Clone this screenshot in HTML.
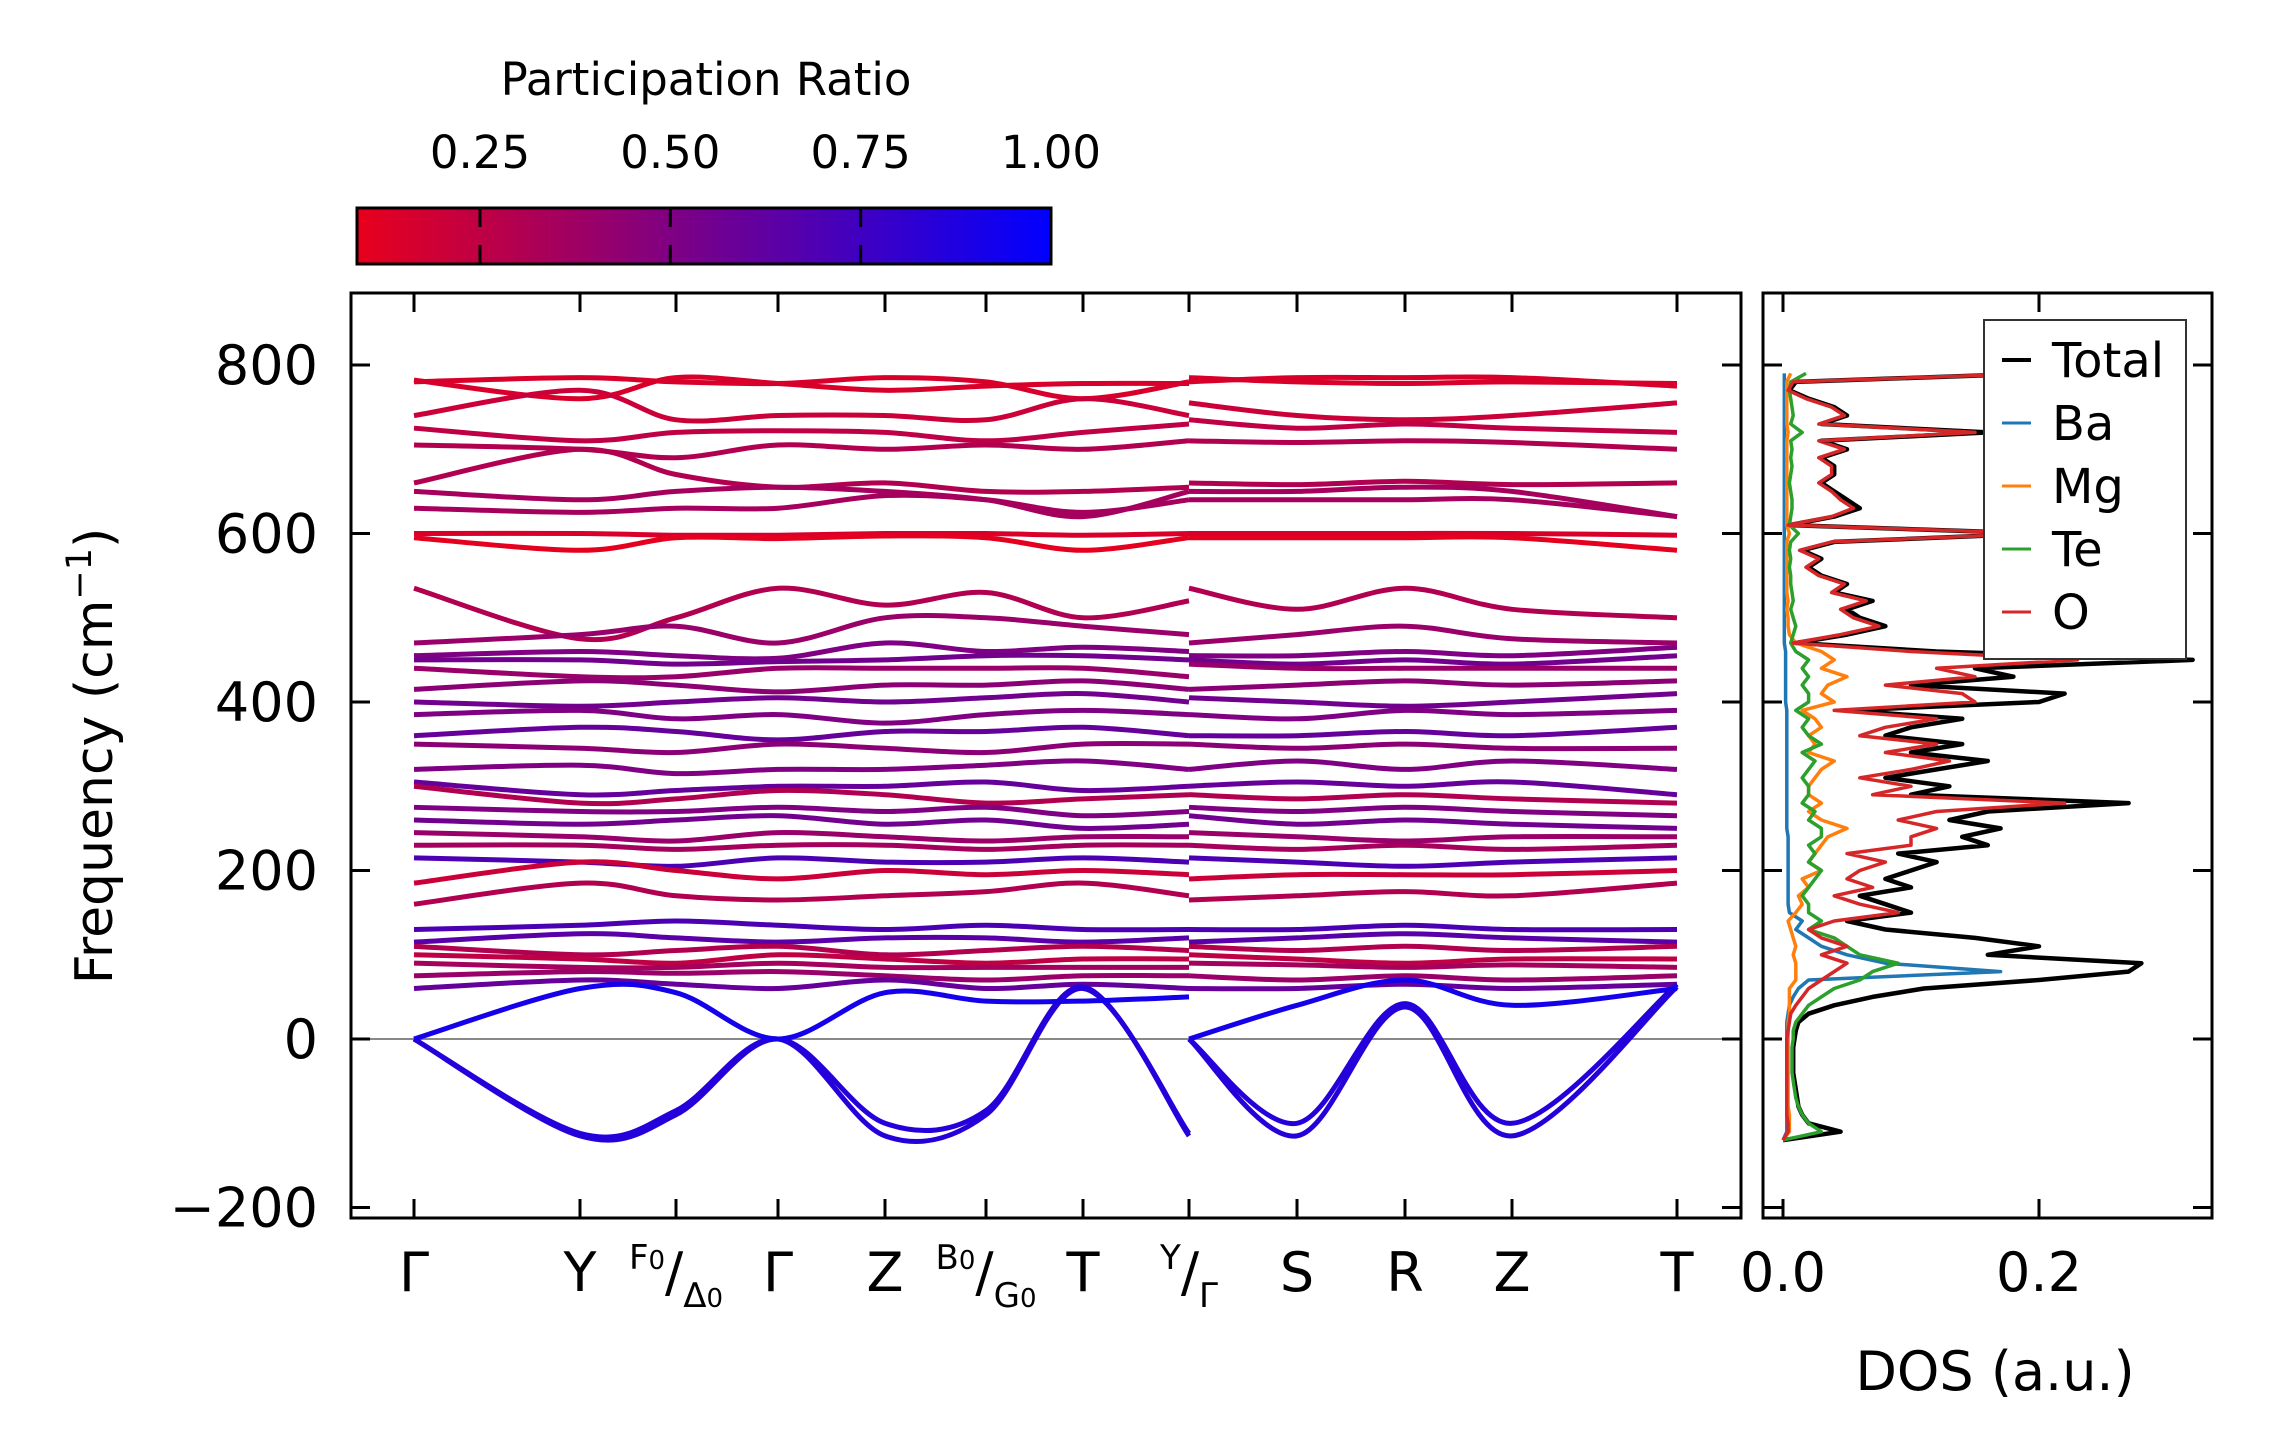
<!DOCTYPE html>
<html><head><meta charset="utf-8">
<style>
html,body{margin:0;padding:0;background:#fff;}
svg{display:block;font-family:"DejaVu Sans","Liberation Sans",sans-serif;}
</style></head>
<body>
<svg id="fig" width="2271" height="1455" viewBox="0 0 2271 1455" xmlns="http://www.w3.org/2000/svg">
<defs>
<linearGradient id="cmap" x1="0" x2="1" y1="0" y2="0">
<stop offset="0" stop-color="rgb(232,0,28)"/><stop offset="1" stop-color="rgb(0,0,255)"/>
</linearGradient>
<clipPath id="mainclip"><rect x="351" y="293" width="1390" height="925"/></clipPath>
<clipPath id="dosclip"><rect x="1763" y="293" width="449" height="925"/></clipPath>
</defs>
<g id="colorbar"></g>
<g id="main"></g>
<g id="dos"></g>
</svg>
<script>
// ---------------- data ----------------
const kLabels = ["Γ","Y","F0/Δ0","Γ","Z","B0/G0","T","Y/Γ","S","R","Z","T"];
const kTickPos = [414,580,676,778,885,986,1083,1189,1297,1405,1512,1677]; // pixel tick positions (axis layout)
// band values at nodes: Γ,Y,F0,Γ,Z,B0,T,Y | Γ,S,R,Z,T
const bandValues = [
[780,785,780,778,785,780,760,780, 780,785,785,785,775],
[782,760,785,778,770,775,778,778, 785,780,778,780,778],
[740,770,735,740,740,735,760,740, 755,740,735,740,755],
[725,710,720,722,720,710,720,730, 735,725,730,725,720],
[705,700,690,705,700,705,700,710, 710,708,710,708,700],
[660,700,670,655,660,650,650,655, 660,658,662,658,660],
[650,640,650,655,650,640,620,650, 650,650,655,650,620],
[630,625,630,630,645,640,625,640, 640,640,640,640,620],
[600,600,598,598,600,600,598,600, 600,600,600,600,598],
[595,580,595,594,597,595,580,595, 595,595,595,595,580],
[535,475,500,535,515,530,500,520, 535,510,535,510,500],
[470,480,490,470,500,500,490,480, 470,480,490,475,470],
[455,460,455,452,470,460,465,460, 455,455,460,455,465],
[450,450,445,448,450,455,455,450, 450,445,450,445,455],
[440,430,430,440,440,440,440,430, 445,440,440,440,440],
[415,425,420,412,420,420,425,415, 415,420,425,420,425],
[400,395,400,405,400,405,410,400, 405,400,395,400,410],
[385,390,380,385,375,385,390,385, 385,380,390,385,390],
[360,370,365,355,365,365,370,360, 360,360,365,360,370],
[350,345,340,350,345,340,350,350, 350,345,350,345,345],
[320,325,315,320,320,325,330,320, 320,330,320,330,320],
[305,290,295,300,300,305,295,300, 300,305,300,305,290],
[300,280,285,295,290,280,285,290, 290,285,290,285,280],
[275,270,270,275,270,275,265,270, 275,270,275,270,265],
[260,255,260,265,255,260,250,255, 265,255,260,255,250],
[245,240,235,245,240,235,240,240, 245,240,235,240,240],
[230,230,225,230,230,225,230,230, 230,225,230,225,230],
[215,210,205,215,210,210,215,210, 215,210,205,210,215],
[185,210,200,190,200,195,200,195, 190,195,195,195,200],
[160,185,170,165,170,175,185,170, 165,170,175,170,185],
[130,135,140,135,130,135,130,130, 130,130,135,130,130],
[115,125,120,115,120,120,115,120, 115,120,125,120,115],
[110,100,105,110,100,105,110,105, 110,105,110,105,110],
[100,95,90,100,95,90,95,95, 100,95,90,95,95],
[90,85,85,90,85,85,85,85, 90,88,85,88,85],
[75,80,78,80,75,70,75,75, 75,70,75,70,75],
[60,70,65,60,70,60,65,60, 60,60,65,60,65],
[0,-115,-90,0,-100,-85,62,-115, 0,-100,42,-100,65],
[0,-112,-85,0,-115,-90,60,-112, 0,-115,38,-115,62],
[0,60,55,0,55,45,45,50, 0,40,70,40,60]
];
const bandPR = [0.15,0.15,0.2,0.25,0.3,0.3,0.35,0.35,0.15,0.1,0.3,0.4,0.5,0.55,0.4,0.45,0.55,0.5,0.6,0.45,0.5,0.6,0.3,0.5,0.55,0.4,0.35,0.7,0.2,0.3,0.7,0.65,0.3,0.25,0.35,0.4,0.6,0.85,0.85,0.92];
const freqTicks = [-200,0,200,400,600,800];
const cbarTicks = [0.25,0.50,0.75,1.00];
const cbarTickLabels = ["0.25","0.50","0.75","1.00"];
// DOS
const dosFreq = [-120,-110,-100,-90,-80,-70,-60,-50,-40,-30,-20,-10,0,10,20,30,40,50,60,70,80,90,100,110,120,130,140,150,160,170,180,190,200,210,220,230,240,250,260,270,280,290,300,310,320,330,340,350,360,370,380,390,400,410,420,430,440,450,460,470,480,490,500,510,520,530,540,550,560,570,580,590,600,610,620,630,640,650,660,670,680,690,700,710,720,730,740,750,760,770,780,790];
const dosTotal = [0.0,0.045,0.02,0.015,0.012,0.011,0.01,0.009,0.008,0.008,0.008,0.008,0.009,0.01,0.012,0.02,0.04,0.07,0.11,0.2,0.27,0.28,0.16,0.2,0.15,0.08,0.05,0.1,0.08,0.06,0.1,0.08,0.1,0.12,0.09,0.16,0.14,0.17,0.13,0.16,0.27,0.1,0.13,0.08,0.12,0.16,0.1,0.14,0.08,0.1,0.14,0.05,0.2,0.22,0.1,0.18,0.15,0.32,0.12,0.01,0.05,0.08,0.06,0.05,0.07,0.04,0.05,0.03,0.02,0.03,0.015,0.04,0.2,0.005,0.04,0.06,0.05,0.04,0.03,0.04,0.04,0.03,0.05,0.03,0.16,0.03,0.05,0.04,0.02,0.005,0.01,0.2];
const dosO = [0.0,0.004,0.004,0.003,0.003,0.003,0.003,0.003,0.003,0.003,0.003,0.003,0.003,0.004,0.005,0.006,0.01,0.015,0.02,0.03,0.04,0.05,0.03,0.05,0.03,0.02,0.04,0.09,0.06,0.04,0.07,0.05,0.06,0.08,0.05,0.1,0.1,0.12,0.09,0.12,0.22,0.07,0.1,0.06,0.1,0.13,0.08,0.12,0.06,0.08,0.12,0.04,0.15,0.14,0.08,0.15,0.12,0.23,0.1,0.008,0.045,0.075,0.055,0.045,0.065,0.038,0.048,0.028,0.018,0.028,0.013,0.038,0.2,0.004,0.038,0.055,0.045,0.038,0.028,0.038,0.038,0.028,0.048,0.028,0.15,0.028,0.048,0.038,0.018,0.004,0.008,0.2];
const dosBa = [0.0,0.003,0.003,0.003,0.003,0.003,0.003,0.003,0.003,0.003,0.003,0.003,0.003,0.003,0.003,0.004,0.005,0.008,0.012,0.02,0.17,0.08,0.05,0.03,0.02,0.01,0.015,0.005,0.004,0.004,0.004,0.004,0.004,0.004,0.004,0.004,0.004,0.003,0.003,0.003,0.003,0.003,0.003,0.003,0.003,0.003,0.003,0.003,0.003,0.003,0.003,0.003,0.002,0.002,0.002,0.002,0.002,0.002,0.002,0.001,0.001,0.001,0.001,0.001,0.001,0.001,0.001,0.001,0.001,0.001,0.001,0.001,0.001,0.001,0.001,0.001,0.001,0.001,0.001,0.001,0.001,0.001,0.001,0.001,0.001,0.001,0.001,0.001,0.001,0.001,0.001,0.001];
const dosMg = [0.0,0.005,0.005,0.005,0.004,0.004,0.004,0.004,0.004,0.004,0.004,0.004,0.004,0.004,0.004,0.005,0.005,0.005,0.005,0.01,0.01,0.01,0.008,0.01,0.008,0.006,0.004,0.01,0.015,0.012,0.02,0.015,0.03,0.02,0.025,0.03,0.035,0.05,0.03,0.02,0.03,0.02,0.02,0.025,0.03,0.04,0.02,0.025,0.02,0.03,0.025,0.015,0.04,0.03,0.035,0.05,0.03,0.04,0.03,0.01,0.005,0.004,0.004,0.003,0.004,0.003,0.003,0.003,0.003,0.003,0.003,0.003,0.005,0.003,0.003,0.003,0.003,0.003,0.003,0.003,0.003,0.003,0.003,0.003,0.004,0.003,0.003,0.003,0.003,0.003,0.003,0.006];
const dosTe = [0.0,0.03,0.02,0.015,0.012,0.01,0.009,0.008,0.007,0.007,0.007,0.007,0.008,0.008,0.01,0.015,0.02,0.03,0.04,0.06,0.07,0.09,0.06,0.05,0.04,0.02,0.03,0.02,0.02,0.015,0.02,0.025,0.03,0.02,0.025,0.02,0.03,0.03,0.02,0.025,0.015,0.02,0.02,0.015,0.02,0.025,0.015,0.03,0.02,0.015,0.02,0.01,0.02,0.02,0.015,0.02,0.015,0.02,0.01,0.006,0.008,0.01,0.008,0.006,0.008,0.007,0.006,0.006,0.005,0.006,0.005,0.006,0.012,0.005,0.006,0.007,0.007,0.006,0.005,0.006,0.007,0.006,0.007,0.006,0.015,0.006,0.008,0.007,0.006,0.005,0.006,0.018];
const dosTicks = [0.0,0.2];
const dosTickLabels = ["0.0","0.2"];
const legendLabels = ["Total","Ba","Mg","Te","O"];
const legendColors = ["#000000","#1f77b4","#ff7f0e","#2ca02c","#d62728"];

// ---------------- helpers ----------------
const NS = "http://www.w3.org/2000/svg";
function mk(parent, tag, attrs, text){
  const e = document.createElementNS(NS, tag);
  for (const k in attrs) e.setAttribute(k, attrs[k]);
  if (text !== undefined) e.textContent = text;
  parent.appendChild(e);
  return e;
}
const Y0 = 1039, YS = 0.8425;
const yF = f => Y0 - f * YS;
const DX0 = 1783, DXS = 1280;
const xD = v => DX0 + v * DXS;
const CB0 = 480, CBS = 761.3;
const xC = v => CB0 + (v - 0.25) * CBS;
function prColor(p){
  const t = Math.max(0, Math.min(1, (p - 0.088) / (1 - 0.088)));
  return `rgb(${Math.round(232*(1-t))},0,${Math.round(28 + 227*t)})`;
}
function spline(pts){
  let d = `M${pts[0][0]},${pts[0][1]}`;
  for (let i=0;i<pts.length-1;i++){
    const p0 = pts[Math.max(0,i-1)], p1 = pts[i], p2 = pts[i+1], p3 = pts[Math.min(pts.length-1,i+2)];
    const c1 = [p1[0]+(p2[0]-p0[0])/6, p1[1]+(p2[1]-p0[1])/6];
    const c2 = [p2[0]-(p3[0]-p1[0])/6, p2[1]-(p3[1]-p1[1])/6];
    d += ` C${c1[0].toFixed(1)},${c1[1].toFixed(1)} ${c2[0].toFixed(1)},${c2[1].toFixed(1)} ${p2[0]},${p2[1].toFixed(1)}`;
  }
  return d;
}

// ---------------- colorbar ----------------
const cb = document.getElementById('colorbar');
const cbTitle = mk(cb,'text',{x:706,y:95,'font-size':45,'text-anchor':'middle'},'Participation Ratio');


const cbRect = mk(cb,'rect',{x:357,y:208,width:694,height:56,fill:'url(#cmap)',stroke:'#000','stroke-width':3});


cbarTicks.forEach((v,i)=>{
  const x = xC(v);
  if (v < 1) {
    mk(cb,'line',{x1:x,x2:x,y1:208,y2:227,stroke:'#000','stroke-width':3});
    mk(cb,'line',{x1:x,x2:x,y1:245,y2:264,stroke:'#000','stroke-width':3});
  }
  const t = mk(cb,'text',{x:x,y:168,'font-size':45,'text-anchor':'middle'},cbarTickLabels[i]);
  
  
});

// ---------------- main band plot ----------------
const mg = document.getElementById('main');
const AX_L=351, AX_R=1741, AX_T=293, AX_B=1218;
const zl = mk(mg,'line',{x1:AX_L,x2:AX_R,y1:yF(0),y2:yF(0),stroke:'#888','stroke-width':2});


const bandsG = mk(mg,'g',{'clip-path':'url(#mainclip)'});
bandValues.forEach((b,bi)=>{
  const col = prColor(bandPR[bi]);
  const seg1 = b.slice(0,8).map((v,i)=>[kTickPos[i], yF(v)]);
  const seg2 = b.slice(8).map((v,i)=>[kTickPos[i+7], yF(v)]);
  [seg1,seg2].forEach(seg=>{
    const p = mk(bandsG,'path',{d:spline(seg),fill:'none',stroke:col,'stroke-width':5,'stroke-linejoin':'round'});
    
    
  });
});
const frame = mk(mg,'rect',{x:AX_L,y:AX_T,width:AX_R-AX_L,height:AX_B-AX_T,fill:'none',stroke:'#000','stroke-width':3});


freqTicks.forEach(f=>{
  const y = yF(f);
  mk(mg,'line',{x1:AX_L,x2:AX_L+19,y1:y,y2:y,stroke:'#000','stroke-width':3});
  mk(mg,'line',{x1:AX_R-19,x2:AX_R,y1:y,y2:y,stroke:'#000','stroke-width':3});
  const t = mk(mg,'text',{x:318,y:y+19,'font-size':54,'text-anchor':'end'},f<0?'\u2212'+Math.abs(f):String(f));
  
  
});
kTickPos.forEach((x,i)=>{
  mk(mg,'line',{x1:x,x2:x,y1:AX_T,y2:AX_T+19,stroke:'#000','stroke-width':3});
  mk(mg,'line',{x1:x,x2:x,y1:AX_B-19,y2:AX_B,stroke:'#000','stroke-width':3});
  const lab = kLabels[i];
  let t;
  if (lab.indexOf('/')>=0){
    const [a,b] = lab.split('/');
    t = mk(mg,'text',{x:x,y:1291,'font-size':54,'text-anchor':'middle'});
    const sa = a.length>1 ? [a[0],a.slice(1)] : [a,''];
    const sb = b.length>1 ? [b[0],b.slice(1)] : [b,''];
    mk(t,'tspan',{'font-size':34,dy:-22},sa[0]);
    if (sa[1]) mk(t,'tspan',{'font-size':26},sa[1]);
    mk(t,'tspan',{'font-size':54,dy:22},'/');
    mk(t,'tspan',{'font-size':34,dy:16},sb[0]);
    if (sb[1]) mk(t,'tspan',{'font-size':26},sb[1]);
  } else {
    t = mk(mg,'text',{x:x,y:1291,'font-size':54,'text-anchor':'middle'},lab);
  }
  
  
});
const yl = mk(mg,'text',{x:0,y:0,'font-size':52,'text-anchor':'middle',transform:'translate(112,756) rotate(-90)'});


mk(yl,'tspan',{},'Frequency (cm');
mk(yl,'tspan',{'font-size':35,dy:-21},'\u22121');
mk(yl,'tspan',{dy:21},')');

// ---------------- DOS plot ----------------
const dg = document.getElementById('dos');
const DL=1763, DR=2212;
const dosClip = mk(dg,'g',{'clip-path':'url(#dosclip)'});
const series = [dosTotal,dosBa,dosMg,dosTe,dosO];
series.forEach((s,si)=>{
  const pts = dosFreq.map((f,i)=>`${xD(s[i]).toFixed(1)},${yF(f).toFixed(1)}`).join(' ');
  const pl = mk(dosClip,'polyline',{points:pts,fill:'none',stroke:legendColors[si],'stroke-width':si===0?4.5:3.5,'stroke-linejoin':'round'});
  
  
});
const dframe = mk(dg,'rect',{x:DL,y:AX_T,width:DR-DL,height:AX_B-AX_T,fill:'none',stroke:'#000','stroke-width':3});


freqTicks.forEach(f=>{
  const y = yF(f);
  mk(dg,'line',{x1:DL,x2:DL+19,y1:y,y2:y,stroke:'#000','stroke-width':3});
  mk(dg,'line',{x1:DR-19,x2:DR,y1:y,y2:y,stroke:'#000','stroke-width':3});
});
dosTicks.forEach((v,i)=>{
  const x = xD(v);
  mk(dg,'line',{x1:x,x2:x,y1:AX_T,y2:AX_T+19,stroke:'#000','stroke-width':3});
  mk(dg,'line',{x1:x,x2:x,y1:AX_B-19,y2:AX_B,stroke:'#000','stroke-width':3});
  const t = mk(dg,'text',{x:x,y:1291,'font-size':54,'text-anchor':'middle'},dosTickLabels[i]);
  
  
});
const xl = mk(dg,'text',{x:1995,y:1390,'font-size':54,'text-anchor':'middle'},'DOS (a.u.)');


// legend
const lg = mk(dg,'g',{});


mk(lg,'rect',{x:1984,y:320,width:202,height:339,fill:'#fff',stroke:'#333','stroke-width':2});
legendLabels.forEach((l,i)=>{
  const y = 360 + i*63;
  mk(lg,'line',{x1:2002,x2:2031,y1:y,y2:y,stroke:legendColors[i],'stroke-width':i===0?4:3});
  const t = mk(lg,'text',{x:2052,y:y+17,'font-size':48},l);
  
  
});
</script>
</body></html>
